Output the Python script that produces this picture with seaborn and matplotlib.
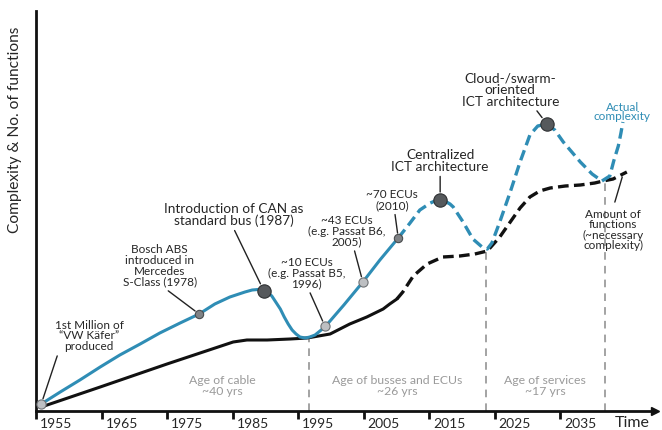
import matplotlib
matplotlib.use("Agg")
import matplotlib.pyplot as plt
import matplotlib.transforms as mtransforms
import seaborn as sns
import pandas as pd

sns.set_theme(style="white")
plt.rcParams['font.family'] = ['Lato', 'DejaVu Sans']

# ---------------- data ----------------
tick_years = [1955, 1965, 1975, 1985, 1995, 2005, 2015, 2025, 2035]

# Actual complexity (solid part, then projected/dashed part)
blue_solid_year = [1955.8, 1958.7, 1961.7, 1964.8, 1967.8, 1970.9, 1973.9, 1977.0,
                   1979.9, 1982.3, 1984.6, 1986.9, 1988.0, 1988.9, 1990.1, 1991.0,
                   1991.6, 1992.3, 1992.9, 1993.5, 1994.1, 1994.7, 1995.3, 1996.1,
                   1996.8, 1997.6, 1999.1, 2002.0, 2004.9, 2007.5, 2010.3]
blue_solid_val = [7, 19, 31, 44, 56, 67, 78, 88, 97, 107, 114, 119, 121, 121.5, 120, 115,
                  109, 102, 94, 87, 81, 77, 74, 73, 74, 76, 84, 106, 129, 151, 173]
blue_dash_year = [2010.3, 2012.1, 2013.6, 2015.2, 2015.9, 2016.7, 2017.4, 2018.2, 2018.7,
                  2020.2, 2021.7, 2023.1, 2023.9, 2024.6, 2025.8, 2027.4, 2028.9, 2030.4,
                  2031.6, 2033.0, 2034.2, 2035.5, 2038.1, 2039.9, 2041.4, 2042.6, 2043.2,
                  2043.9, 2044.3, 2044.6]
blue_dash_val = [173, 188, 201, 208, 210, 211, 210, 207, 204, 189, 172, 164, 162, 168,
                 189, 219, 249, 276, 285, 287, 281, 269, 249, 237, 230, 235, 250, 265,
                 278, 289]

# Amount of functions (necessary complexity)
black_solid_year = [1955.8, 1964.8, 1975.0, 1985.1, 1987.2, 1990.3, 1993.8, 1996.4,
                    1999.9, 2002.9, 2005.5, 2008.0, 2009.0, 2010.1]
black_solid_val = [4, 24, 47, 69, 71, 71, 72, 73, 77, 87, 94, 102, 107, 112]
black_dash_year = [2010.1, 2011.0, 2012.6, 2014.7, 2017.1, 2019.7, 2022.0, 2023.9,
                   2025.8, 2027.4, 2028.9, 2030.4, 2031.9, 2033.5, 2035.8, 2038.1,
                   2040.3, 2041.6, 2043.1, 2045.2]
black_dash_val = [112, 119, 135, 147, 154, 155, 157, 160, 174, 189, 203, 214, 220, 223,
                  225, 226, 228, 230, 232, 239]

# Milestones on the complexity curve
ms_year = [1955.8, 1979.9, 1989.8, 1999.1, 2004.9, 2010.3, 2016.7, 2033.0]
ms_val = [7, 97, 120, 85, 129, 173, 211, 287]
ms_kind = ["light", "mid", "dark", "light", "light", "mid", "dark", "dark"]
ms_label = ["1st Million of\n\u201cVW K\u00e4fer\u201d\nproduced",
            "Bosch ABS\nintroduced in\nMercedes\nS-Class (1978)",
            "Introduction of CAN as\nstandard bus (1987)",
            "~10 ECUs\n(e.g. Passat B5,\n1996)",
            "~43 ECUs\n(e.g. Passat B6,\n2005)",
            "~70 ECUs\n(2010)",
            "Centralized\nICT architecture",
            "Cloud-/swarm-\noriented\nICT architecture"]
ms_label_year = [1963.1, 1973.9, 1985.2, 1996.3, 2002.5, 2009.4, 2016.7, 2027.4]
ms_label_val = [76, 146, 197, 139, 181, 212, 251, 322]
ms_relpos = [(0.06, 0), (0.54, 0), (0.49, 0), (0.52, 0), (0.58, 0), (0.54, 0), (0.5, 0), (0.74, 0)]
ms_big = [False, False, True, False, False, False, True, True]

# Era boundaries and labels
era_bound_year = [1996.7, 2023.7, 2041.9]
era_bound_val = [73, 160, 230]
era_label = ["Age of cable\n~40 yrs", "Age of busses and ECUs\n~26 yrs", "Age of services\n~17 yrs"]
era_label_year = [1983.5, 2010.1, 2032.7]
era_label_val = 25.5

# ---------------- figure ----------------
W, H = 662, 431
fig = plt.figure(figsize=(W / 100, H / 100), dpi=100)
ax = fig.add_axes([36 / W, (H - 412) / H, (655 - 36) / W, (412 - 12) / H])
ax.set_xlim(1955, 2049.5)
ax.set_ylim(0, 400)

BLUE = "#2f8db5"
GREY_TXT = "#9a9a9a"
TXT = "#262626"

# era boundaries
for yr, v in zip(era_bound_year, era_bound_val):
    ax.vlines(yr, 0, v, colors="#8a8a8a", linestyles=(0, (5, 4)), linewidth=1.1, zorder=1)

df_bs = pd.DataFrame({"year": blue_solid_year, "val": blue_solid_val})
df_bd = pd.DataFrame({"year": blue_dash_year, "val": blue_dash_val})
df_ks = pd.DataFrame({"year": black_solid_year, "val": black_solid_val})
df_kd = pd.DataFrame({"year": black_dash_year, "val": black_dash_val})

sns.lineplot(data=df_ks, x="year", y="val", color="#111111", linewidth=2.2, sort=False,
             ax=ax, zorder=2)
sns.lineplot(data=df_kd, x="year", y="val", color="#111111", linewidth=2.4, sort=False,
             ax=ax, zorder=2, dashes=False, linestyle=(0, (3.2, 1.6)))
sns.lineplot(data=df_bs, x="year", y="val", color=BLUE, linewidth=2.2, sort=False,
             ax=ax, zorder=3)
sns.lineplot(data=df_bd, x="year", y="val", color=BLUE, linewidth=2.4, sort=False,
             ax=ax, zorder=3, dashes=False, linestyle=(0, (3.2, 1.6)))

style = {"light": ("#bdbfc2", "#6f7275", 6.6),
         "mid": ("#7f8285", "#4a4c4e", 6.0),
         "dark": ("#56595c", "#2e3032", 9.6)}
for yr, v, k in zip(ms_year, ms_val, ms_kind):
    fc, ec, ms = style[k]
    ax.plot(yr, v, "o", markersize=ms, markerfacecolor=fc, markeredgecolor=ec,
            markeredgewidth=0.8, zorder=5)

for lab, ly, lv, yr, v, rp, big, k in zip(ms_label, ms_label_year, ms_label_val,
                                         ms_year, ms_val, ms_relpos, ms_big, ms_kind):
    ax.annotate(lab, xy=(yr, v), xytext=(ly, lv), textcoords="data",
                ha="center", va="center", fontsize=9.8 if big else 8.5,
                color=TXT, linespacing=0.95 if big else 0.98, zorder=6,
                arrowprops=dict(arrowstyle="-", color="#222222", lw=1.0,
                                relpos=rp, shrinkA=1, shrinkB=style[k][2] * 0.6))

ax.text(2044.5, 300, "Actual\ncomplexity", ha="center", va="center", fontsize=8.5,
        color=BLUE, linespacing=0.88)
ax.annotate("Amount of\nfunctions\n(~necessary\ncomplexity)", xy=(2044.5, 234),
            xytext=(2043.1, 182), textcoords="data", ha="center", va="center",
            fontsize=8.5, color=TXT, linespacing=0.92,
            arrowprops=dict(arrowstyle="-", color="#222222", lw=1.0, relpos=(0.5, 1),
                            shrinkA=2, shrinkB=0))

for lab, yr in zip(era_label, era_label_year):
    ax.text(yr, era_label_val, lab, ha="center", va="center", fontsize=8.8,
            color=GREY_TXT, linespacing=1.0)

# axes
for s in ["top", "right"]:
    ax.spines[s].set_visible(False)
for s in ["left", "bottom"]:
    ax.spines[s].set_color("#111111")
    ax.spines[s].set_linewidth(2.0)
ax.plot(1.0, 0, ">", color="#111111", markersize=6, transform=ax.get_yaxis_transform(),
        clip_on=False)
ax.plot(0, 1.0, "^", color="#111111", markersize=6, transform=ax.get_xaxis_transform(),
        clip_on=False)
ax.set_yticks([])
ax.set_xticks(tick_years)
ax.set_xticklabels([str(t) for t in tick_years])
ax.tick_params(axis="x", direction="out", length=6, width=2, color="#111111",
               pad=-2.0, labelsize=10, labelcolor=TXT, bottom=True)
off = mtransforms.ScaledTranslation(4 / 100, 0, fig.dpi_scale_trans)
for lbl in ax.get_xticklabels():
    lbl.set_ha("left")
    lbl.set_transform(lbl.get_transform() + off)
ax.set_xlabel("")
ax.set_ylabel("")

fig.text(15 / W, 1 - 130 / H, "Complexity & No. of functions", rotation=90,
         ha="center", va="center", fontsize=11.2, color=TXT)
fig.text(632 / W, 1 - 423 / H, "Time", ha="center", va="center", fontsize=11.5, color=TXT)

fig.savefig("out.png", dpi=100)
